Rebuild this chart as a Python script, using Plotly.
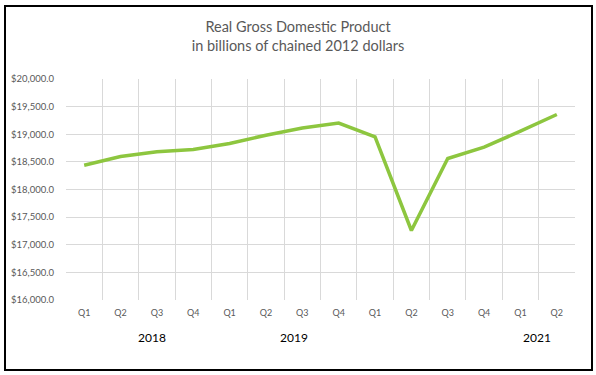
import plotly.graph_objects as go

quarters = ["Q1", "Q2", "Q3", "Q4", "Q1", "Q2", "Q3", "Q4",
            "Q1", "Q2", "Q3", "Q4", "Q1", "Q2"]
gdp = [18438, 18598, 18682, 18724, 18833, 18983, 19112, 19202,
       18952, 17258, 18561, 18768, 19056, 19358]
year_labels = ["2018", "2019", "2021"]
year_pos = [1.87, 5.78, 12.45]

W, H = 596, 375
L, R, T, B = 66, 21, 79, 75
pw, ph = W - L - R, H - T - B

idx = list(range(len(gdp)))

fig = go.Figure()
fig.add_trace(go.Scatter(
    x=idx, y=gdp, mode="lines",
    line=dict(color="#8dc63f", width=3.5),
    hoverinfo="skip"))

font = "Lato, 'Open Sans', sans-serif"

fig.update_layout(
    width=W, height=H,
    margin=dict(l=L, r=R, t=T, b=B),
    paper_bgcolor="white", plot_bgcolor="white",
    showlegend=False,
    font=dict(family=font),
    title=dict(text="Real Gross Domestic Product<br>in billions of chained 2012 dollars",
               x=0.5, xanchor="center", y=1 - 32 / H, yanchor="top",
               font=dict(size=14.5, color="#595959", family=font)),
    xaxis=dict(range=[-0.5, len(gdp) - 0.5], tickvals=idx, ticktext=quarters,
               showgrid=False, zeroline=False, showline=False, ticks="",
               ticklabelstandoff=6,
               tickfont=dict(size=9, color="#595959"),
               minor=dict(tickvals=[i - 0.5 for i in range(len(gdp) + 1)],
                          showgrid=True, gridcolor="#d9d9d9", gridwidth=1, ticks=""),
               fixedrange=True),
    yaxis=dict(range=[16000, 20000], dtick=500, tickformat="$,.1f",
               showgrid=True, gridcolor="#d9d9d9", gridwidth=1, zeroline=False,
               showline=False, ticks="", ticklabelstandoff=11,
               tickfont=dict(size=9.5, color="#595959"), fixedrange=True),
)

for lab, pos in zip(year_labels, year_pos):
    fig.add_annotation(x=pos, y=(300 - 337) / ph, xref="x", yref="paper",
                       text=lab, showarrow=False, xanchor="center", yanchor="middle",
                       font=dict(size=12, color="#000000", family=font))

fig.add_shape(type="rect", xref="paper", yref="paper",
              x0=(5 - L) / pw, x1=(592 - L) / pw,
              y0=(H - B - 370) / ph, y1=(H - B - 6) / ph,
              line=dict(color="black", width=2), fillcolor="rgba(0,0,0,0)",
              layer="above")

fig.write_html("out.html", config={"displayModeBar": False},
               post_script="document.body.style.margin='0';document.body.style.overflow='hidden';")
